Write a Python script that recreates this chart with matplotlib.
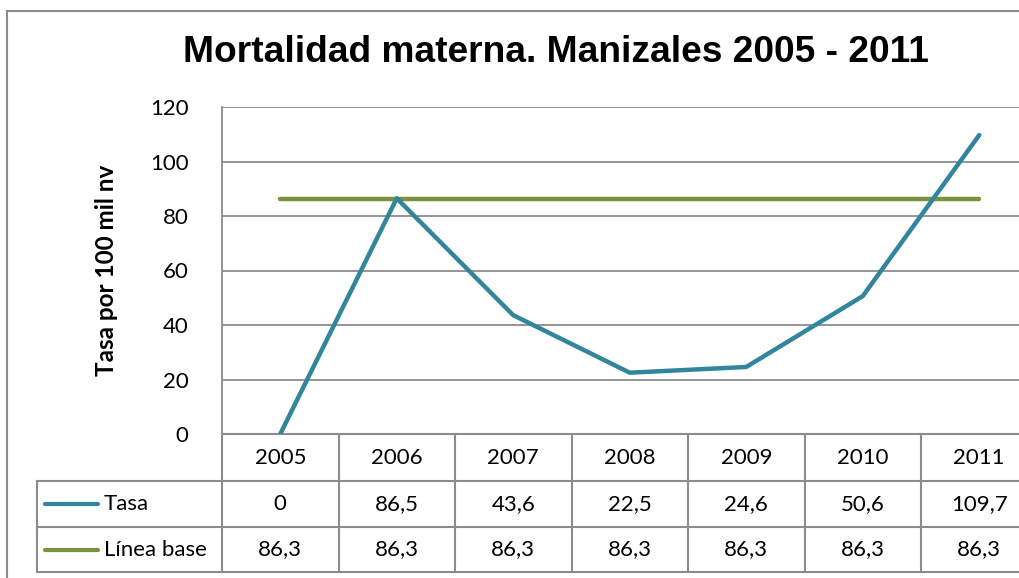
import numpy as np
import matplotlib.pyplot as plt
from matplotlib.patches import Rectangle
from matplotlib.lines import Line2D
import matplotlib.transforms as mtransforms

# Data
years = ["2005", "2006", "2007", "2008", "2009", "2010", "2011"]
tasa = [0, 86.5, 43.6, 22.5, 24.6, 50.6, 109.7]
linea_base = [86.3, 86.3, 86.3, 86.3, 86.3, 86.3, 86.3]
series_names = ["Tasa", "Línea base"]

col_tasa = "#31859C"
col_base = "#77933C"
grid_col = "#8C8C8C"
font = "Lato"

W, H = 1019, 578
fig = plt.figure(figsize=(W / 100, H / 100), dpi=100)

# outer chart frame
fig.patches.append(Rectangle((7 / W, -0.1), 1.2, 1 - 11 / H + 0.1, transform=fig.transFigure,
                             fill=False, edgecolor=grid_col, lw=1.5))

# plot area (extends past right edge like in the reference)
left, right, top, bottom = 222, 1037.5, 107, 434
ax = fig.add_axes([left / W, 1 - bottom / H, (right - left) / W, (bottom - top) / H])

x = np.arange(len(years))
ax.plot(x, linea_base, color=col_base, lw=3.2, solid_capstyle="round", zorder=3)
ax.plot(x, tasa, color=col_tasa, lw=3.2, solid_capstyle="round", zorder=4)

ax.set_xlim(-0.5, len(years) - 0.5)
ax.set_ylim(0, 120)
ax.set_yticks(np.arange(0, 121, 20))
ax.set_xticks([])
ax.yaxis.grid(True, color=grid_col, lw=1.3)
ax.set_axisbelow(True)
for s in ["top", "right", "bottom"]:
    ax.spines[s].set_visible(False)
ax.spines["left"].set_color(grid_col)
ax.spines["left"].set_linewidth(1.3)
ax.tick_params(axis="y", length=0, pad=24, labelsize=16)
for lab in ax.get_yticklabels():
    lab.set_fontfamily(font)

ax.set_ylabel("Tasa por 100 mil nv", fontsize=17.5, fontweight="bold", family=font, labelpad=23)

fig.text(556 / W, 1 - 53 / H, "Mortalidad materna. Manizales 2005 - 2011", ha="center", va="center",
         fontsize=26.7, fontweight="bold", family="Liberation Sans")

# data table below the plot
trans = mtransforms.blended_transform_factory(ax.transData, ax.transAxes)
px = 1.0 / (bottom - top)  # one pixel in axes units (vertical)
rows = [0, -47 * px, -93 * px, -138 * px]
label_left = (37 - left) / (right - left)
line_kw = dict(color=grid_col, lw=1.5, clip_on=False)

# horizontal lines
ax.add_line(Line2D([-0.5, len(years) - 0.5], [rows[0], rows[0]], transform=trans, **line_kw))
for r in rows[1:]:
    ax.add_line(Line2D([label_left, 1.2], [r, r], transform=ax.transAxes, **line_kw))
# vertical lines
for i in range(len(years) + 1):
    ax.add_line(Line2D([i - 0.5, i - 0.5], [rows[0], rows[-1]], transform=trans, **line_kw))
ax.add_line(Line2D([label_left, label_left], [rows[1], rows[-1]], transform=ax.transAxes, **line_kw))

def fmt(v):
    return f"{v:g}".replace(".", ",")

for i, y in enumerate(years):
    ax.text(i, (rows[0] + rows[1]) / 2, y, transform=trans, ha="center", va="center",
            fontsize=16, family=font)
    ax.text(i, (rows[1] + rows[2]) / 2, fmt(tasa[i]), transform=trans, ha="center", va="center",
            fontsize=16, family=font)
    ax.text(i, (rows[2] + rows[3]) / 2, fmt(linea_base[i]), transform=trans, ha="center", va="center",
            fontsize=16, family=font)

# legend keys in the row labels
key_x0 = (45 - left) / (right - left)
key_x1 = (98 - left) / (right - left)
text_x = (104 - left) / (right - left)
for k, (name, c) in enumerate(zip(series_names, [col_tasa, col_base])):
    yc = (rows[k + 1] + rows[k + 2]) / 2
    ax.add_line(Line2D([key_x0, key_x1], [yc, yc], transform=ax.transAxes, color=c, lw=3,
                       solid_capstyle="round", clip_on=False))
    ax.text(text_x, yc, name, transform=ax.transAxes, ha="left", va="center",
            fontsize=16, family=font)

fig.savefig("out.png", dpi=100)
